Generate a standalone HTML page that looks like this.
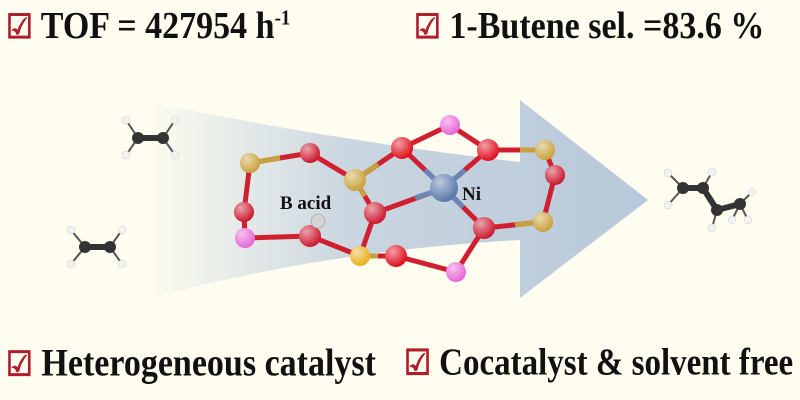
<!DOCTYPE html>
<html><head><style>
body{margin:0;width:800px;height:400px;background:#fefdf0;overflow:hidden;position:relative;font-family:"Liberation Serif",serif;}
.t{position:absolute;font-weight:bold;color:#111;white-space:nowrap;transform-origin:0 50%;}
.c{color:#b01e2e}
</style></head><body>
<div class="t" style="left:6px;top:8px;font-size:34px;transform:scaleY(1.12)"><span class="c" style="font-size:30px">☑</span> TOF = 427954 h<sup style="font-size:19px">-1</sup></div>
<div class="t" style="left:414px;top:8px;font-size:34px;transform:scaleY(1.12)"><span class="c" style="font-size:30px">☑</span> 1-Butene sel. =83.6 %</div>
<div class="t" style="left:6px;top:345px;font-size:34px;transform:scaleY(1.14)"><span class="c" style="font-size:30px">☑</span> Heterogeneous catalyst</div>
<div class="t" style="left:404px;top:345px;font-size:33px;transform:scaleY(1.16)"><span class="c" style="font-size:30px">☑</span> Cocatalyst &amp; solvent free</div>
<svg width="800" height="400" style="position:absolute;left:0;top:0">
<defs>
<linearGradient id="g" x1="0" x2="1"><stop offset="0" stop-color="#b8c8da" stop-opacity="0.05"/><stop offset="0.4" stop-color="#b8c8da" stop-opacity="0.75"/><stop offset="1" stop-color="#b8c8da"/></linearGradient>
<radialGradient id="r" cx="0.35" cy="0.3" r="0.7"><stop offset="0" stop-color="#fff" stop-opacity="0.6"/><stop offset="1" stop-color="#fff" stop-opacity="0"/></radialGradient>
</defs>
<path d="M155,103 Q330,140 520,162 L520,100 L648,200 L520,298 L520,240 Q330,250 155,297 Z" fill="url(#g)"/>
<g stroke-width="5" stroke-linecap="round">
<path d="M250,163 L310,153 L355,180 L402,148 L450,125 L488,150 L545,150 L555,175 L543,222 L484,228 L456,272 L396,256 L360,256 L375,213 L355,180 M250,163 L244,212 L245,238 L310,236 L360,256 M375,213 L444,188 L402,148 M444,188 L488,150 M444,188 L484,228" stroke="#d02030" fill="none"/>
</g>
<g stroke="#c8a040" stroke-width="5" fill="none"><path d="M250,163 L280,158 M355,180 L378,164 M355,180 L365,196 M545,150 L520,150 M543,222 L515,225 M360,256 L378,256"/></g>
<g stroke="#6a85b8" stroke-width="5"><path d="M444,188 L415,198 M444,188 L425,170 M444,188 L465,170 M444,188 L463,207"/></g>
<g>
<circle cx="250" cy="163" r="10" fill="#c9a23c"/><circle cx="310" cy="153" r="10" fill="#cc1a30"/>
<circle cx="355" cy="180" r="11" fill="#c9a23c"/><circle cx="402" cy="148" r="11" fill="#e0101e"/>
<circle cx="450" cy="125" r="10" fill="#e868d8"/><circle cx="488" cy="150" r="11" fill="#e0101e"/>
<circle cx="545" cy="150" r="10" fill="#c9a23c"/><circle cx="555" cy="175" r="10" fill="#cc1a30"/>
<circle cx="543" cy="222" r="10" fill="#c9a23c"/><circle cx="484" cy="228" r="11" fill="#cc1a30"/>
<circle cx="444" cy="188" r="14" fill="#5a78aa"/><circle cx="375" cy="213" r="11" fill="#cc1a30"/>
<circle cx="360" cy="256" r="10" fill="#e8b020"/><circle cx="396" cy="256" r="11" fill="#e0101e"/>
<circle cx="456" cy="272" r="10" fill="#e868d8"/><circle cx="245" cy="238" r="10" fill="#e868d8"/>
<circle cx="244" cy="212" r="10" fill="#cc1a30"/><circle cx="310" cy="236" r="11" fill="#cc1a30"/>
</g>
<g fill="url(#r)">
<circle cx="250" cy="163" r="10"/><circle cx="310" cy="153" r="10"/><circle cx="355" cy="180" r="11"/><circle cx="402" cy="148" r="11"/><circle cx="450" cy="125" r="10"/><circle cx="488" cy="150" r="11"/><circle cx="545" cy="150" r="10"/><circle cx="555" cy="175" r="10"/><circle cx="543" cy="222" r="10"/><circle cx="484" cy="228" r="11"/><circle cx="444" cy="188" r="14"/><circle cx="375" cy="213" r="11"/><circle cx="360" cy="256" r="10"/><circle cx="396" cy="256" r="11"/><circle cx="456" cy="272" r="10"/><circle cx="245" cy="238" r="10"/><circle cx="244" cy="212" r="10"/><circle cx="310" cy="236" r="11"/>
</g>
<text x="280" y="209" font-family="Liberation Serif" font-weight="bold" font-size="19" fill="#111">B acid</text>
<circle cx="318" cy="221" r="7" fill="#d4d4d4" stroke="#aaa" stroke-width="0.8"/>
<text x="462" y="200" font-family="Liberation Serif" font-weight="bold" font-size="19" fill="#111">Ni</text>
<g stroke="#555" stroke-width="2">
<path d="M138,138 L126,120 M138,138 L126,155 M163,138 L175,120 M163,138 L175,155"/>
<path d="M85,247 L71,230 M85,247 L71,264 M110,247 L122,230 M110,247 L122,264"/>
<path d="M683,188 L668,173 M683,188 L668,205 M703,188 L712,172 M717,210 L712,228 M740,204 L752,192 M740,204 L748,220 M740,204 L732,220"/>
</g>
<g stroke="#333" stroke-width="6" fill="none" stroke-linejoin="round"><path d="M138,138 L163,138 M85,247 L110,247 M683,188 L703,188 M703,188 L717,210 M717,210 L740,204"/></g>
<g fill="#333"><circle cx="138" cy="138" r="6"/><circle cx="163" cy="138" r="6"/><circle cx="85" cy="247" r="6"/><circle cx="110" cy="247" r="6"/><circle cx="683" cy="188" r="6"/><circle cx="703" cy="188" r="6"/><circle cx="717" cy="210" r="6"/><circle cx="740" cy="204" r="6"/></g>
<g fill="#f2f2f2" stroke="#ccc" stroke-width="0.5"><circle cx="126" cy="120" r="4"/><circle cx="126" cy="155" r="4"/><circle cx="175" cy="120" r="4"/><circle cx="175" cy="155" r="4"/><circle cx="71" cy="230" r="4"/><circle cx="71" cy="264" r="4"/><circle cx="122" cy="230" r="4"/><circle cx="122" cy="264" r="4"/><circle cx="668" cy="173" r="4"/><circle cx="668" cy="205" r="4"/><circle cx="712" cy="172" r="4"/><circle cx="712" cy="228" r="4"/><circle cx="752" cy="192" r="4"/><circle cx="748" cy="220" r="4"/><circle cx="732" cy="220" r="4"/></g>
</svg>
</body></html>
